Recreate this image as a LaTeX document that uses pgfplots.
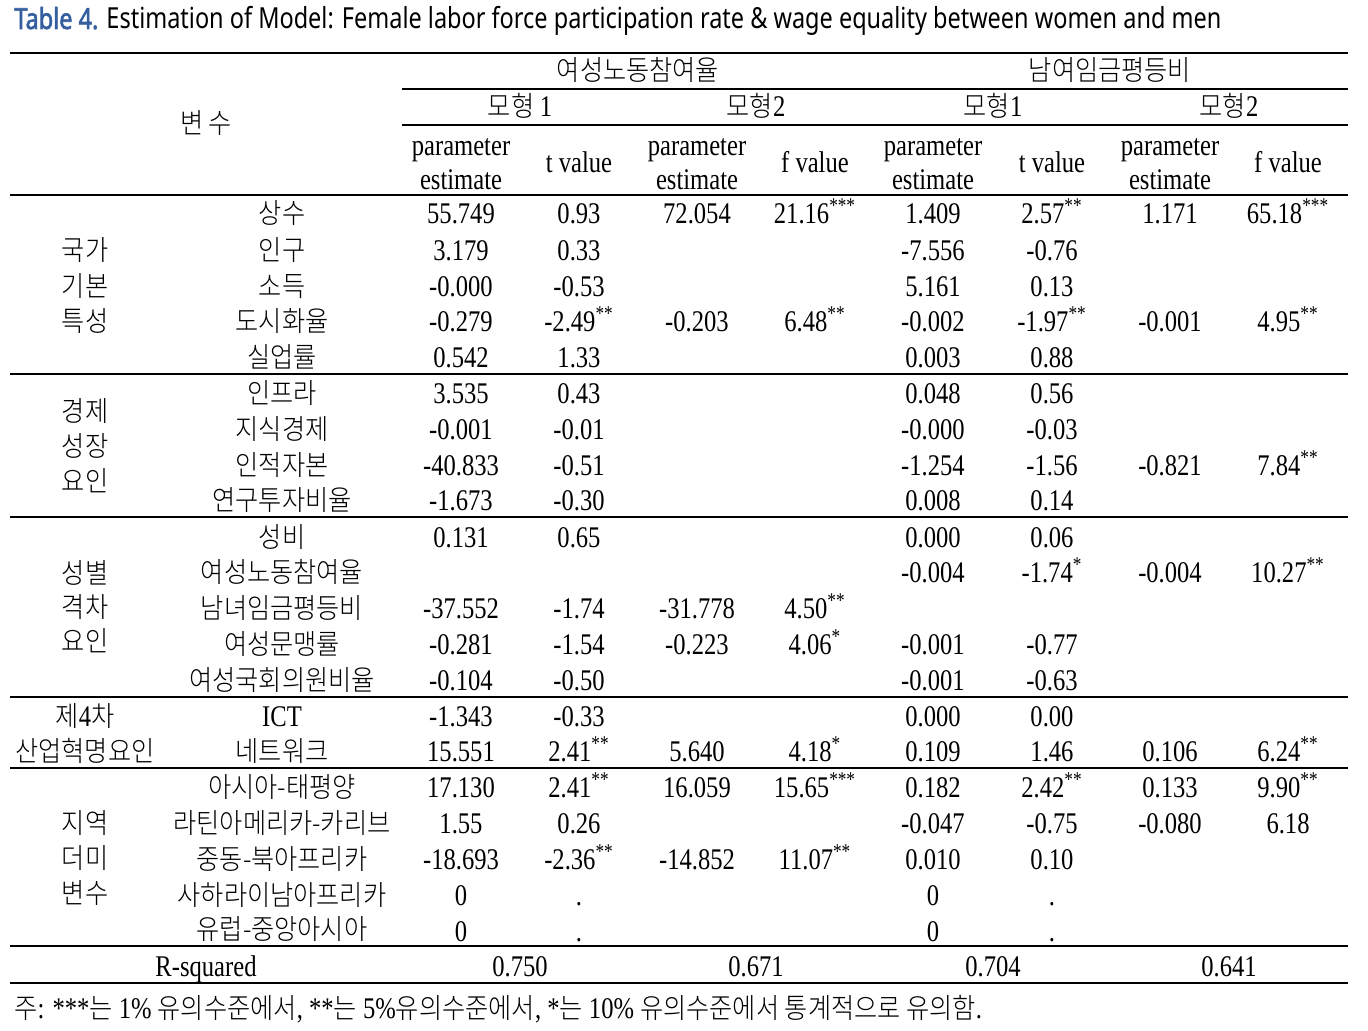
\documentclass[border=0pt]{standalone}
\usepackage{pgfplots}
\pgfplotsset{compat=1.18}
\usepackage{fontspec}
\setmainfont{Liberation Serif}[FakeStretch=0.82]
\newfontfamily\kr{Noto Sans CJK KR Light}[FakeStretch=0.9]
\newfontfamily\ttl{Noto Sans}[FakeStretch=0.81]
\newfontfamily\ttlb{Noto Sans}[FakeStretch=0.81, FakeBold=2]
\definecolor{ttlblue}{RGB}{52,94,158}
\newcommand{\s}[1]{\textsuperscript{#1}}
\newcommand{\K}[1]{{\kr\fontsize{14}{17}\selectfont #1}}
\newcommand{\row}[9]{%
  \node[c] at (axis cs:461,#1) {#2};
  \node[c] at (axis cs:579,#1) {#3};
  \node[c] at (axis cs:697,#1) {#4};
  \node[c] at (axis cs:815,#1) {#5};
  \node[c] at (axis cs:933,#1) {#6};
  \node[c] at (axis cs:1052,#1) {#7};
  \node[c] at (axis cs:1170,#1) {#8};
  \node[c] at (axis cs:1288,#1) {#9};
}
\tikzset{c/.style={anchor=base, yshift=-5.2pt, inner sep=0pt, font=\fontsize{15}{18}\selectfont},
  k/.style={anchor=base, yshift=-5.3pt, inner sep=0pt, font=\fontsize{14}{17}\selectfont\kr}}
\begin{document}
\begin{tikzpicture}
\begin{axis}[width=684pt, height=515.5pt, scale only axis,
  xmin=0, xmax=1368, ymin=0, ymax=1031, y dir=reverse,
  axis lines=none, clip=false]
\addplot[draw=none] coordinates {(0,0) (1368,1031)};
% rules
\addplot[black, line width=1.3pt] coordinates {(10,53) (1348,53)};
\addplot[black, line width=0.6pt] coordinates {(402,89) (1348,89)};
\addplot[black, line width=0.6pt] coordinates {(402,125) (1348,125)};
\addplot[black, line width=0.7pt] coordinates {(10,195) (1348,195)};
\addplot[black, line width=0.7pt] coordinates {(10,374) (1348,374)};
\addplot[black, line width=0.7pt] coordinates {(10,517) (1348,517)};
\addplot[black, line width=0.7pt] coordinates {(10,697) (1348,697)};
\addplot[black, line width=0.7pt] coordinates {(10,768) (1348,768)};
\addplot[black, line width=0.7pt] coordinates {(10,946) (1348,946)};
\addplot[black, line width=1.3pt] coordinates {(10,983) (1348,983)};
% title
\node[anchor=base west, inner sep=0pt, font=\fontsize{14.5}{17}\selectfont\ttl] at (axis cs:14,29) {{\color{ttlblue}\ttlb Table 4.} Estimation of Model: Female labor force participation rate \& wage equality between women and men};
% header
\node[k] at (axis cs:206,123) {변 수};
\node[k] at (axis cs:638,70) {여성노동참여율};
\node[k] at (axis cs:1110,70) {남여임금평등비};
\node[k] at (axis cs:520,106) {모형 {\rmfamily\fontsize{15}{18}\selectfont 1}};
\node[k] at (axis cs:756,106) {모형{\rmfamily\fontsize{15}{18}\selectfont 2}};
\node[k] at (axis cs:993,106) {모형{\rmfamily\fontsize{15}{18}\selectfont 1}};
\node[k] at (axis cs:1229,106) {모형{\rmfamily\fontsize{15}{18}\selectfont 2}};
\node[c] at (axis cs:461,145) {parameter};
\node[c] at (axis cs:461,179) {estimate};
\node[c] at (axis cs:697,145) {parameter};
\node[c] at (axis cs:697,179) {estimate};
\node[c] at (axis cs:933,145) {parameter};
\node[c] at (axis cs:933,179) {estimate};
\node[c] at (axis cs:1170,145) {parameter};
\node[c] at (axis cs:1170,179) {estimate};
\node[c] at (axis cs:579,162) {t value};
\node[c] at (axis cs:815,162) {f value};
\node[c] at (axis cs:1052,162) {t value};
\node[c] at (axis cs:1288,162) {f value};
% group labels
\node[k] at (axis cs:85,250) {국가};
\node[k] at (axis cs:85,286) {기본};
\node[k] at (axis cs:85,321) {특성};
\node[k] at (axis cs:85,411) {경제};
\node[k] at (axis cs:85,446) {성장};
\node[k] at (axis cs:85,481) {요인};
\node[k] at (axis cs:85,573) {성별};
\node[k] at (axis cs:85,607) {격차};
\node[k] at (axis cs:85,641) {요인};
\node[k] at (axis cs:85,716) {제{\rmfamily\fontsize{15}{18}\selectfont 4}차};
\node[k] at (axis cs:85,751) {산업혁명요인};
\node[k] at (axis cs:85,823) {지역};
\node[k] at (axis cs:85,858) {더미};
\node[k] at (axis cs:85,893) {변수};
% variable names
\node[k] at (axis cs:282,213) {상수};
\node[k] at (axis cs:282,250) {인구};
\node[k] at (axis cs:282,286) {소득};
\node[k] at (axis cs:282,321) {도시화율};
\node[k] at (axis cs:282,357) {실업률};
\node[k] at (axis cs:282,393) {인프라};
\node[k] at (axis cs:282,429) {지식경제};
\node[k] at (axis cs:282,465) {인적자본};
\node[k] at (axis cs:282,500) {연구투자비율};
\node[k] at (axis cs:282,537) {성비};
\node[k] at (axis cs:282,572) {여성노동참여율};
\node[k] at (axis cs:282,608) {남녀임금평등비};
\node[k] at (axis cs:282,644) {여성문맹률};
\node[k] at (axis cs:282,680) {여성국회의원비율};
\node[c] at (axis cs:282,716) {ICT};
\node[k] at (axis cs:282,751) {네트워크};
\node[k] at (axis cs:282,787) {아시아-태평양};
\node[k] at (axis cs:282,823) {라틴아메리카-카리브};
\node[k] at (axis cs:282,859) {중동-북아프리카};
\node[k] at (axis cs:282,895) {사하라이남아프리카};
\node[k] at (axis cs:282,929) {유럽-중앙아시아};
% values
\row{213}{55.749}{0.93}{72.054}{21.16\s{***}}{1.409}{2.57\s{**}}{1.171}{65.18\s{***}}
\row{250}{3.179}{0.33}{}{}{-7.556}{-0.76}{}{}
\row{286}{-0.000}{-0.53}{}{}{5.161}{0.13}{}{}
\row{321}{-0.279}{-2.49\s{**}}{-0.203}{6.48\s{**}}{-0.002}{-1.97\s{**}}{-0.001}{4.95\s{**}}
\row{357}{0.542}{1.33}{}{}{0.003}{0.88}{}{}
\row{393}{3.535}{0.43}{}{}{0.048}{0.56}{}{}
\row{429}{-0.001}{-0.01}{}{}{-0.000}{-0.03}{}{}
\row{465}{-40.833}{-0.51}{}{}{-1.254}{-1.56}{-0.821}{7.84\s{**}}
\row{500}{-1.673}{-0.30}{}{}{0.008}{0.14}{}{}
\row{537}{0.131}{0.65}{}{}{0.000}{0.06}{}{}
\row{572}{}{}{}{}{-0.004}{-1.74\s{*}}{-0.004}{10.27\s{**}}
\row{608}{-37.552}{-1.74}{-31.778}{4.50\s{**}}{}{}{}{}
\row{644}{-0.281}{-1.54}{-0.223}{4.06\s{*}}{-0.001}{-0.77}{}{}
\row{680}{-0.104}{-0.50}{}{}{-0.001}{-0.63}{}{}
\row{716}{-1.343}{-0.33}{}{}{0.000}{0.00}{}{}
\row{751}{15.551}{2.41\s{**}}{5.640}{4.18\s{*}}{0.109}{1.46}{0.106}{6.24\s{**}}
\row{787}{17.130}{2.41\s{**}}{16.059}{15.65\s{***}}{0.182}{2.42\s{**}}{0.133}{9.90\s{**}}
\row{823}{1.55}{0.26}{}{}{-0.047}{-0.75}{-0.080}{6.18}
\row{859}{-18.693}{-2.36\s{**}}{-14.852}{11.07\s{**}}{0.010}{0.10}{}{}
\row{895}{0}{.}{}{}{0}{.}{}{}
\row{931}{0}{.}{}{}{0}{.}{}{}
% R-squared
\node[c] at (axis cs:206,966) {R-squared};
\node[c] at (axis cs:520,966) {0.750};
\node[c] at (axis cs:756,966) {0.671};
\node[c] at (axis cs:993,966) {0.704};
\node[c] at (axis cs:1229,966) {0.641};
% footnote
\node[c, anchor=base west] at (axis cs:14,1008) {\K{주}: ***\K{는} 1\% \K{유의수준에서}, **\K{는} 5\%\K{유의수준에서}, *\K{는} 10\% \K{유의수준에서 통계적으로 유의함}.};
\end{axis}
\end{tikzpicture}
\end{document}
